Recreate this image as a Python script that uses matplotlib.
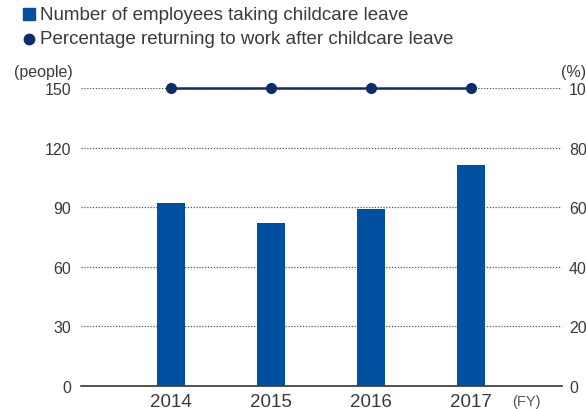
import matplotlib.pyplot as plt
import numpy as np

plt.rcParams['font.family'] = ['Liberation Sans', 'DejaVu Sans']

years = ['2014', '2015', '2016', '2017']
employees = [92, 82, 89, 111]
return_pct = [100, 100, 100, 100]
left_ticks = [0, 30, 60, 90, 120, 150]
right_ticks = [0, 20, 40, 60, 80, 100]

bar_color = '#0050a2'
line_color = '#0c2c6a'
text_color = '#3a3a3a'

fig = plt.figure(figsize=(5.86, 4.10), dpi=100)
ax = fig.add_axes([81/586, 23/410, 481/586, 298/410])

x = np.arange(len(years))
ax.bar(x, employees, width=0.28, color=bar_color, zorder=3)
ax.set_xlim(-0.9, 3.91)
ax.set_ylim(0, 150)

for t in left_ticks[1:]:
    ax.axhline(t, color='#555555', lw=0.9, ls=(0, (1, 1.3)), zorder=1)

ax.set_yticks(left_ticks)
ax.set_xticks(x)
ax.set_xticklabels(years)
ax.tick_params(axis='y', length=0, pad=7, labelsize=11.5, labelcolor=text_color)
ax.tick_params(axis='x', length=0, pad=5, labelsize=13.5, labelcolor=text_color)
for s in ['top', 'right', 'left']:
    ax.spines[s].set_visible(False)
ax.spines['bottom'].set_color('#333333')
ax.spines['bottom'].set_linewidth(1.2)

ax2 = ax.twinx()
ax2.set_ylim(0, 100)
ax2.set_yticks(right_ticks)
ax2.tick_params(axis='y', length=0, pad=5, labelsize=11.5, labelcolor=text_color)
for s in ax2.spines.values():
    s.set_visible(False)
ax2.plot(x, return_pct, color=line_color, lw=1.8, marker='o', markersize=7,
         clip_on=False, zorder=5)

# labels
fig.text(73/586, 1 - 73/410, '(people)', ha='right', va='center', fontsize=11.5, color=text_color)
fig.text(586/586, 1 - 73/410, '(%)', ha='right', va='center', fontsize=11.5, color=text_color)
fig.text(512/586, 1 - 402/410, '(FY)', ha='left', va='center', fontsize=10.5, color='#555555')

# legend
fig.patches.append(plt.Rectangle((23/586, 1 - 20.5/410), 11.5/586, 11.5/410,
                                 transform=fig.transFigure, color=bar_color))
fig.add_artist(plt.Line2D([29/586], [1 - 40/410], marker='o', markersize=7.5,
                          color=line_color, transform=fig.transFigure))
fig.text(40/586, 1 - 15/410, 'Number of employees taking childcare leave',
         ha='left', va='center', fontsize=13.5, color=text_color)
fig.text(40/586, 1 - 40/410, 'Percentage returning to work after childcare leave',
         ha='left', va='center', fontsize=13.5, color=text_color)

fig.savefig('out.png', dpi=100)
